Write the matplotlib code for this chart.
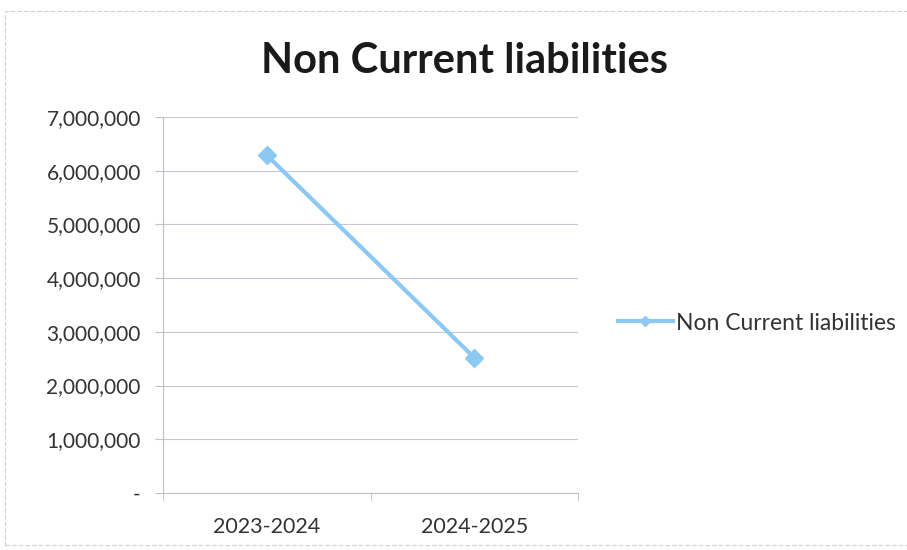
import matplotlib.pyplot as plt
from matplotlib.patches import Rectangle
from matplotlib.ticker import FuncFormatter

plt.rcParams['font.family'] = ['Lato', 'DejaVu Sans']

# data
years = ['2023-2024', '2024-2025']
liabilities = [6290000, 2520000]
series_name = 'Non Current liabilities'

fig = plt.figure(figsize=(9.07, 5.5), dpi=100)
ax = fig.add_axes([163 / 907, 1 - 493 / 550, (578 - 163) / 907, (493 - 117) / 550])

# outer chart frame
fig.patches.append(Rectangle((5 / 907, 5 / 550), 905 / 907, 534 / 550, transform=fig.transFigure,
                             fill=False, edgecolor='#d0d0d0', linewidth=0.8, linestyle=(0, (4, 2))))

x = range(len(years))
ax.plot(x, liabilities, color='#8cc8f2', linewidth=3, marker='D', markersize=9,
        markeredgecolor='#8cc8f2', label=series_name)

ax.set_xlim(-0.5, 1.5)
ax.set_ylim(0, 7000000)
ax.set_yticks(range(0, 7000001, 1000000))
ax.yaxis.set_major_formatter(FuncFormatter(lambda v, p: '-' if v == 0 else f'{int(v):,}'))
ax.set_xticks(list(x))
ax.set_xticklabels(years)
ax.set_xticks([-0.5, 0.5, 1.5], minor=True)

ax.grid(axis='y', color='#c8c8d4', linewidth=0.8)
ax.set_axisbelow(True)
for s in ['top', 'right']:
    ax.spines[s].set_visible(False)
for s in ['left', 'bottom']:
    ax.spines[s].set_color('#c0c0c8')
    ax.spines[s].set_linewidth(0.8)

ax.tick_params(axis='y', length=6, color='#c0c0c8', labelsize=15, labelcolor='#333333', pad=10)
ax.tick_params(axis='x', which='major', length=0, labelsize=15.5, labelcolor='#333333', pad=17)
ax.tick_params(axis='x', which='minor', length=6, color='#c0c0c8')

fig.text(465 / 907, 1 - 61 / 550, 'Non Current liabilities', ha='center', va='center',
         fontsize=30, fontweight='bold', color='#1a1a1a')

ax.legend(loc='center left', bbox_to_anchor=(597 / 907, 1 - 323 / 550), bbox_transform=fig.transFigure,
          frameon=False, fontsize=16.5, handlelength=2.4, handletextpad=0.15, markerscale=0.6,
          labelcolor='#333333')

fig.savefig('out.png', dpi=100)
